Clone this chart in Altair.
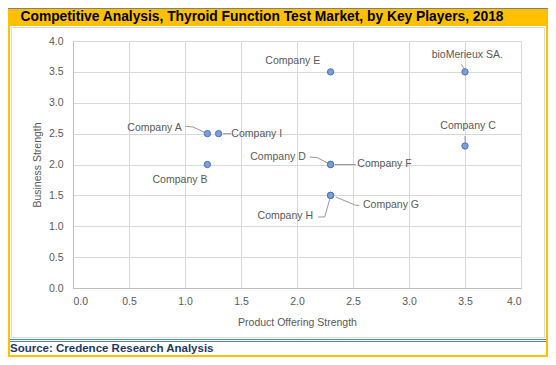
import altair as alt
import pandas as pd

# ---- data ----
companies = ["Company A", "Company I", "Company B", "Company E", "bioMerieux SA.",
             "Company C", "Company D", "Company F", "Company G", "Company H"]
offering = [1.2, 1.3, 1.2, 2.3, 3.5, 3.5, 2.3, 2.3, 2.3, 2.3]
strength = [2.5, 2.5, 2.0, 3.5, 3.5, 2.3, 2.0, 2.0, 1.5, 1.5]

# label anchor positions (data units) and alignment
label_x = [0.97, 1.414, 0.955, 1.962, 3.52, 3.527, 2.078, 2.539, 2.589, 2.143]
label_y = [2.598, 2.50, 1.755, 3.671, 3.768, 2.619, 2.121, 2.003, 1.339, 1.161]
label_align = ["right", "left", "center", "center", "center",
               "center", "right", "left", "left", "right"]

# leader-line paths (data units)
leader_company = ["Company A"] * 3 + ["Company I"] * 2 + ["bioMerieux SA."] * 2 + \
                 ["Company C"] * 2 + ["Company D"] * 3 + ["Company F"] * 2 + \
                 ["Company G"] * 3 + ["Company H"] * 3
leader_x = [1.004, 1.072, 1.2,  1.339, 1.41,  3.468, 3.497,  3.50, 3.50,
            2.113, 2.179, 2.3,  2.339, 2.524,  2.346, 2.524, 2.554,
            2.188, 2.247, 2.292]
leader_y = [2.619, 2.607, 2.5,  2.5, 2.5,  3.622, 3.536,  2.462, 2.364,
            2.121, 2.112, 2.0,  2.0, 2.0,  1.474, 1.339, 1.339,
            1.150, 1.150, 1.436]
leader_order = [0, 1, 2, 0, 1, 0, 1, 0, 1, 0, 1, 2, 0, 1, 0, 1, 2, 0, 1, 2]

title_text = "Competitive Analysis, Thyroid Function Test Market, by Key Players, 2018"
source_text = "Source: Credence Research Analysis"
tick_values = [0.0, 0.5, 1.0, 1.5, 2.0, 2.5, 3.0, 3.5, 4.0]

pts = pd.DataFrame({"company": companies, "offering": offering, "strength": strength})
labels = pd.DataFrame({"company": companies, "lx": label_x, "ly": label_y, "align": label_align})
leaders = pd.DataFrame({"company": leader_company, "x": leader_x, "y": leader_y, "o": leader_order})
one = pd.DataFrame({"d": [0]})

FONT = "Liberation Sans"
GRAY = "#595959"
ORANGE = "#FFC000"

xs = alt.Scale(domain=[0, 4], nice=False)
ys = alt.Scale(domain=[0, 4], nice=False)

xaxis = alt.Axis(values=tick_values, format=".1f", title="Product Offering Strength",
                 ticks=False, labelPadding=8, titlePadding=11, labelOverlap=False)
yaxis = alt.Axis(values=tick_values, format=".1f", title="Business Strength",
                 ticks=False, labelPadding=10, titlePadding=6, labelOverlap=False)

base = alt.Chart(pts)

points = base.mark_point(filled=True, size=40, fill="#7C9FD6", stroke="#4A72B8",
                         strokeWidth=1, opacity=1).encode(
    x=alt.X("offering:Q", scale=xs, axis=xaxis),
    y=alt.Y("strength:Q", scale=ys, axis=yaxis),
)

lead = alt.Chart(leaders).mark_line(color="#8C8C8C", strokeWidth=0.9).encode(
    x=alt.X("x:Q", scale=xs, axis=xaxis),
    y=alt.Y("y:Q", scale=ys, axis=yaxis),
    detail="company:N",
    order="o:Q",
)

def label_layer(al):
    return alt.Chart(labels).transform_filter(alt.datum.align == al).mark_text(
        align=al, baseline="middle", font=FONT, fontSize=10.5, color=GRAY
    ).encode(
        x=alt.X("lx:Q", scale=xs, axis=xaxis),
        y=alt.Y("ly:Q", scale=ys, axis=yaxis),
        text="company:N",
    )

deco = alt.Chart(one)
# orange frame pieces (outside the plot area)
band = deco.mark_rect(color=ORANGE).encode(
    x=alt.value(-65), x2=alt.value(475), y=alt.value(-33), y2=alt.value(-15))
left_b = deco.mark_rect(color=ORANGE).encode(
    x=alt.value(-65), x2=alt.value(-63), y=alt.value(-33), y2=alt.value(316))
right_b = deco.mark_rect(color=ORANGE).encode(
    x=alt.value(473), x2=alt.value(475), y=alt.value(-33), y2=alt.value(316))
bottom_b = deco.mark_rect(color=ORANGE).encode(
    x=alt.value(-65), x2=alt.value(475), y=alt.value(314), y2=alt.value(316))
top_line = deco.mark_rule(color="#7F7F7F", strokeWidth=1).encode(
    x=alt.value(-65), x2=alt.value(475), y=alt.value(-32.5))
box = deco.mark_rect(fill="white", fillOpacity=0, stroke="#D9D9D9", strokeWidth=1).encode(
    x=alt.value(-61.5), x2=alt.value(471.5), y=alt.value(-13.5), y2=alt.value(296.5))
blue1 = deco.mark_rule(color="#4F81BD", strokeWidth=1).encode(
    x=alt.value(-63), x2=alt.value(473), y=alt.value(298.5))
blue2 = deco.mark_rule(color="#4F81BD", strokeWidth=1).encode(
    x=alt.value(-63), x2=alt.value(473), y=alt.value(300.5))
title = deco.mark_text(font=FONT, fontSize=13.8, fontWeight="bold", color="black",
                       align="center", baseline="alphabetic").encode(
    x=alt.value(189), y=alt.value(-20), text=alt.value(title_text))
source = deco.mark_text(font=FONT, fontSize=11.5, fontWeight="bold", color="#1F3864",
                        align="left", baseline="alphabetic").encode(
    x=alt.value(-63), y=alt.value(311), text=alt.value(source_text))

chart = alt.layer(
    band, left_b, right_b, bottom_b, top_line, box, blue1, blue2, title, source,
    lead, points, label_layer("left"), label_layer("center"), label_layer("right"),
).properties(
    width=448, height=247,
    padding={"left": 65, "top": 33, "right": 27, "bottom": 69},
    autosize=alt.AutoSizeParams(type="none"),
    background="white",
).configure_view(
    stroke=None
).configure_axis(
    labelFont=FONT, titleFont=FONT, labelFontSize=10.5, titleFontSize=10.5,
    labelColor=GRAY, titleColor=GRAY, titleFontWeight="normal",
    gridColor="#D9D9D9", domainColor="#BFBFBF", gridWidth=1,
)

chart.save("out.html", embed_options={"renderer": "svg", "actions": False})
